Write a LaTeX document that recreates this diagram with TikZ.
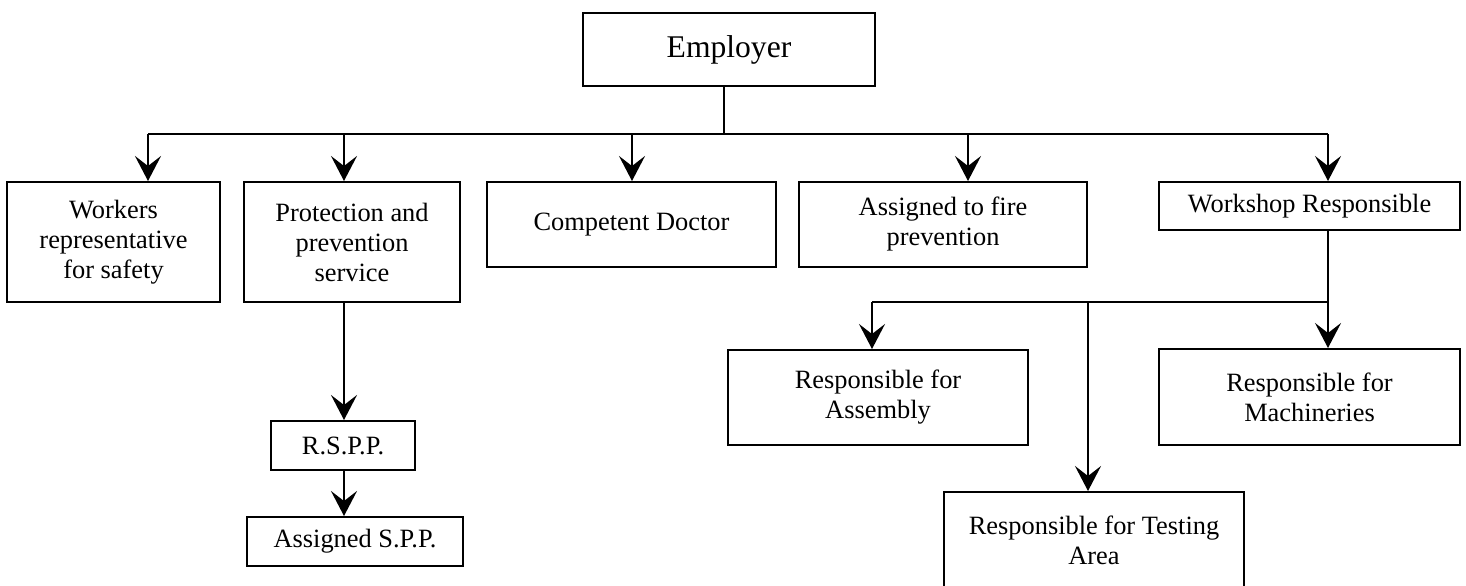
\documentclass[tikz,border=0pt]{standalone}
\usepackage{fontspec}
\setmainfont{Liberation Serif}
\usepackage{tikz}
\usetikzlibrary{arrows.meta,positioning}

\begin{document}
\begin{tikzpicture}[x=0.5pt,y=-0.5pt,line width=1pt,
    >={Stealth[length=12.5pt,width=13pt,inset=5pt]},
    box/.style={draw,align=center,inner sep=0pt,
      font=\fontsize{13.2}{15}\selectfont},
    arr/.style={->}]
  \useasboundingbox (0,0) rectangle (1466,585);
  % boxes
  \node[box,minimum width=146pt,minimum height=36.5pt,
    font=\fontsize{15.8}{18}\selectfont] (emp) at (729,49.5) {Employer};
  \node[box,minimum width=106.5pt,minimum height=60pt] (work) at (113.5,242)
    {Workers\\representative\\for safety};
  \node[box,minimum width=108pt,minimum height=60pt] (prot) at (352,242)
    {Protection and\\prevention\\service};
  \node[box,minimum width=144.5pt,minimum height=42.5pt] (doc) at (631.5,224.5)
    {Competent Doctor};
  \node[box,minimum width=144pt,minimum height=42.5pt] (fire) at (943,224.5)
    {Assigned to fire\\prevention};
  \node[box,minimum width=150.5pt,minimum height=24pt] (shop) at (1309.5,206)
    {Workshop Responsible};
  \node[box,minimum width=72pt,minimum height=24.5pt] (rspp) at (343,445.5)
    {R.S.P.P.};
  \node[box,minimum width=108pt,minimum height=24.5pt] (spp) at (355,541.5)
    {Assigned S.P.P.};
  \node[box,minimum width=150pt,minimum height=47.5pt] (asm) at (878,397.5)
    {Responsible for\\Assembly};
  \node[box,minimum width=150.5pt,minimum height=48pt] (mach) at (1309.5,397)
    {Responsible for\\Machineries};
  \node[box,minimum width=150pt,minimum height=48pt] (test) at (1094,540)
    {Responsible for Testing\\Area};
  % upper bus
  \coordinate (top) at (724,134);
  \coordinate (b1) at (148,134);
  \coordinate (b2) at (344,134);
  \coordinate (b3) at (632,134);
  \coordinate (b4) at (968,134);
  \coordinate (b5) at (1328,134);
  \draw (top |- emp.south) -- (top);
  \draw (b1) -- (b5);
  \draw[arr] (b1) -- (b1 |- work.north);
  \draw[arr] (b2) -- (b2 |- prot.north);
  \draw[arr] (b3) -- (b3 |- doc.north);
  \draw[arr] (b4) -- (b4 |- fire.north);
  \draw[arr] (b5) -- (b5 |- shop.north);
  \draw[arr] (b2 |- prot.south) -- (b2 |- rspp.north);
  \draw[arr] (b2 |- rspp.south) -- (b2 |- spp.north);
  % lower bus
  \coordinate (c1) at (872,302);
  \coordinate (c2) at (1088,302);
  \coordinate (c3) at (1328,302);
  \draw (b5 |- shop.south) -- (c3) -- (c1);
  \draw[arr] (c1) -- (c1 |- asm.north);
  \draw[arr] (c2) -- (c2 |- test.north);
  \draw[arr] (c3) -- (c3 |- mach.north);
\end{tikzpicture}
\end{document}
